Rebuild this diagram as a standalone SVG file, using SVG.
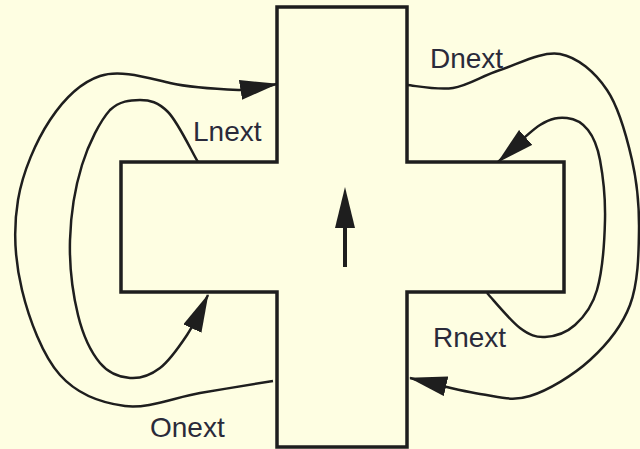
<svg xmlns="http://www.w3.org/2000/svg" width="640" height="449" viewBox="0 0 640 449">
  <style>
    .shape { fill: none; stroke: #1e1e1e; stroke-width: 3.5; stroke-linejoin: miter; }
    .conn { fill: none; stroke: #1e1e1e; stroke-width: 2.5; }
    .lbl { font-family: "Liberation Sans", Arial, sans-serif; font-size: 28px; fill: #2a2a3a; }
  </style>
  <defs>
    <marker id="ah" markerUnits="userSpaceOnUse" viewBox="0 0 38 20" refX="37" refY="10" markerWidth="38" markerHeight="20" orient="auto">
      <path d="M0,0 L38,10 L0,20 Z" fill="#1e1e1e"/>
    </marker>
  </defs>
  <rect x="0" y="0" width="640" height="449" fill="#fefee2"/>

  <g id="cross">
    <path class="shape" d="M277,7 H407 V162 H564 V292 H407 V447 H277 V292 H121 V162 H277 Z"/>
  </g>

  <g id="edge-arrow">
    <line x1="345" y1="267" x2="345" y2="222" stroke="#1e1e1e" stroke-width="4"/>
    <path d="M345,187 L355,228 L335,228 Z" fill="#1e1e1e"/>
  </g>

  <g id="connectors">
    <!-- Onext / outer left -->
    <path class="conn" marker-end="url(#ah)" d="M273,381 C260.8,383 224.7,388.8 200,393 C175.3,397.2 148.3,409 125,406 C101.7,403 77.2,394.3 60,375 C42.8,355.7 29,319.2 22,290 C15,260.8 13.3,228.3 18,200 C22.7,171.7 36.3,140.7 50,120 C63.7,99.3 80,82.7 100,76 C120,69.3 146.7,77.7 170,83 C193.3,88.3 222.2,89.3 240,90 C257.8,90.7 270.8,85 277,84"/>
    <!-- Lnext / inner left -->
    <path class="conn" marker-end="url(#ah)" d="M198,162 C192.8,153.8 178,122 168,112 C158,102 150,100 140,100 C130,100 119.7,101 110,110 C100.3,120.8 88.7,143.3 82,165 C75.3,186.7 70.7,215 70,240 C69.3,265 73,294.5 78,315 C83,335.5 91.3,352.5 100,363 C108.7,373.5 120,377.2 130,378 C140,378.8 150.5,375.2 160,368 C169.5,360.8 179,347 187,335 C195,323 204.5,302.5 208,295"/>
    <!-- Dnext / outer right -->
    <path class="conn" marker-end="url(#ah)" d="M407,85 C414.7,85.5 437.5,90.5 453,88 C468.5,85.5 482.2,75.7 500,70 C517.8,64.3 542.2,50.7 560,54 C577.8,57.3 595,72.3 607,90 C619,107.7 626.7,136.7 632,160 C637.3,183.3 639.3,205.8 639,230 C638.7,254.2 638.2,283.3 630,305 C621.8,326.7 606.7,344.8 590,360 C573.3,375.2 548.3,390.3 530,396 C511.7,401.7 500,397 480,394 C460,391 421.7,380.7 410,378"/>
    <!-- Rnext / inner right -->
    <path class="conn" marker-end="url(#ah)" d="M487,293 C492.5,298.8 510.3,320.7 520,328 C529.7,335.3 535.8,337.5 545,337 C554.2,336.5 566.3,332.8 575,325 C583.7,317.2 592,307.5 597,290 C602,272.5 604.5,241.7 605,220 C605.5,198.3 602.8,175 600,160 C597.2,145 593.5,137 588,130 C582.5,123 575,118.8 567,118 C559,117.2 551.5,117.7 540,125 C528.5,132.3 505,155.8 498,162"/>
  </g>

  <g id="labels">
    <text class="lbl" x="193" y="141">Lnext</text>
    <text class="lbl" x="430" y="68">Dnext</text>
    <text class="lbl" x="433" y="347">Rnext</text>
    <text class="lbl" x="150" y="437">Onext</text>
  </g>
</svg>
